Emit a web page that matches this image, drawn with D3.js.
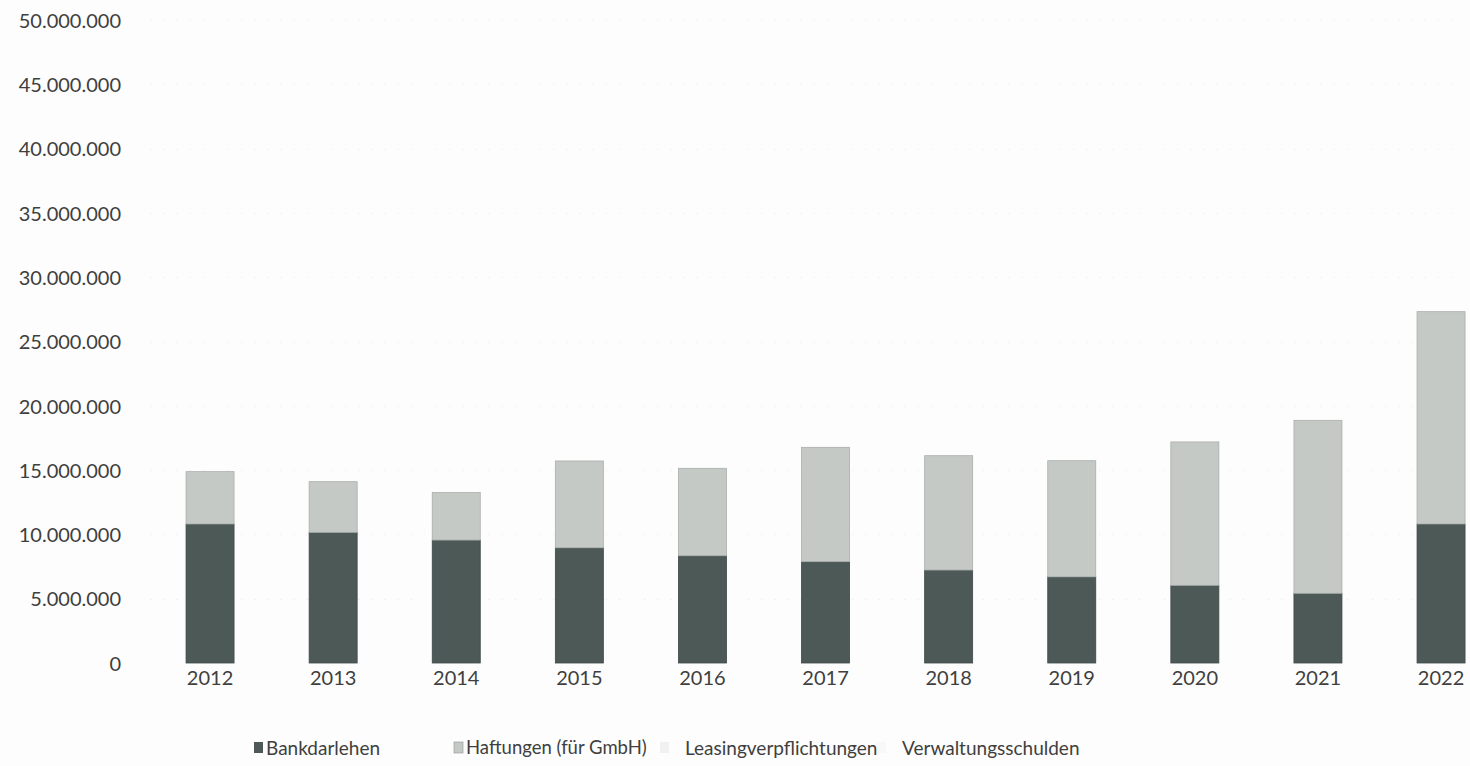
<!DOCTYPE html>
<html>
<head>
<meta charset="utf-8">
<script src="https://cdn.jsdelivr.net/npm/d3@7/dist/d3.min.js"></script>
<style>
  html, body { margin: 0; padding: 0; background: #fdfdfd; }
  svg { display: block; }
  text { font-family: Lato, "Open Sans", sans-serif; fill: #3f3f3f; }
</style>
</head>
<body>
<svg id="chart" width="1470" height="766"></svg>
<script>
// Verbindlichkeiten nach Art, 2012–2022 (Werte in Mio. €)
const years = ["2012","2013","2014","2015","2016","2017","2018","2019","2020","2021","2022"];
const bankdarlehen = [10.81, 10.16, 9.56, 8.96, 8.34, 7.88, 7.23, 6.70, 6.04, 5.42, 10.81];
const haftungen    = [4.07, 3.94, 3.70, 6.75, 6.80, 8.89, 8.89, 9.03, 11.15, 13.45, 16.51];
const leasing      = [0, 0, 0, 0, 0, 0, 0, 0, 0, 0, 0];
const verwaltung   = [0, 0, 0, 0, 0, 0, 0, 0, 0, 0, 0];
const seriesNames  = ["Bankdarlehen", "Haftungen (für GmbH)", "Leasingverpflichtungen", "Verwaltungsschulden"];
const yTicks = [0, 5, 10, 15, 20, 25, 30, 35, 40, 45, 50];

const colors = ["#4d5957", "#c4c9c6", "#f1f1f1", "#f8f8f8"];

const svg = d3.select("#chart");

const rows = years.map((y, i) => ({
  year: y,
  b: bankdarlehen[i] * 1e6,
  h: haftungen[i] * 1e6,
  l: leasing[i] * 1e6,
  v: verwaltung[i] * 1e6
}));
const keys = ["b", "h", "l", "v"];
const stacked = d3.stack().keys(keys)(rows);

const x = d3.scaleBand()
  .domain(years)
  .range([148.5, 1502.6])
  .paddingInner(0.61)
  .paddingOuter(0.305);

const y = d3.scaleLinear()
  .domain([0, 50e6])
  .range([663, 20]);

const fmt = v => v === 0 ? "0" : d3.format(",")(v).replace(/,/g, ".");

// very faint horizontal gridlines
svg.append("g")
  .selectAll("line")
  .data(yTicks.filter(t => t > 0))
  .join("line")
  .attr("x1", 150).attr("x2", 1470)
  .attr("y1", t => Math.round(y(t * 1e6)) + 0.5)
  .attr("y2", t => Math.round(y(t * 1e6)) + 0.5)
  .attr("stroke", "#f3f3f3")
  .attr("stroke-width", 1)
  .attr("stroke-dasharray", "2 11");

// y axis labels
const yAxis = d3.axisLeft(y)
  .tickValues(yTicks.map(t => t * 1e6))
  .tickFormat(fmt)
  .tickSize(0)
  .tickPadding(0);
const yg = svg.append("g").attr("transform", "translate(121,0)").call(yAxis);
yg.select(".domain").remove();
yg.selectAll("text")
  .attr("font-size", 20)
  .attr("font-family", "Lato, sans-serif")
  .attr("fill", "#3f3f3f")
  .attr("dy", "0.36em");

// stacked bars
svg.append("g")
  .selectAll("g")
  .data(stacked)
  .join("g")
  .attr("fill", (d, i) => colors[i])
  .selectAll("rect")
  .data(d => d.map(p => ({ p, key: d.key })))
  .join("rect")
  .attr("x", d => x(d.p.data.year))
  .attr("width", x.bandwidth())
  .attr("y", d => y(d.p[1]))
  .attr("height", d => Math.max(0, y(d.p[0]) - y(d.p[1])))
  .attr("stroke", d => d.key === "b" ? "#3e4847" : (d.key === "h" ? "#a9aeab" : "none"))
  .attr("stroke-width", 0.8);

// x axis labels
const xAxis = d3.axisBottom(x).tickSize(0).tickPadding(0);
const xg = svg.append("g").attr("transform", "translate(0,670)").call(xAxis);
xg.select(".domain").remove();
xg.selectAll("text")
  .attr("font-size", 20)
  .attr("font-family", "Lato, sans-serif")
  .attr("fill", "#3f3f3f")
  .attr("dy", "0.75em");

// legend
const legendPos = [254, 454, 660, 877];
const legend = svg.append("g");
seriesNames.forEach((name, i) => {
  const g = legend.append("g").attr("transform", `translate(${legendPos[i]},748)`);
  g.append("rect")
    .attr("x", 0).attr("y", -6)
    .attr("width", 9).attr("height", 11)
    .attr("fill", colors[i])
    .attr("stroke", i === 1 ? "#9a9f9c" : "none")
    .attr("stroke-width", 0.7);
  g.append("text")
    .attr("x", i < 2 ? 12 : 25)
    .attr("y", 0)
    .attr("dy", "0.35em")
    .attr("font-size", i === 1 ? 18.5 : 19)
    .text(name);
});
</script>
</body>
</html>
